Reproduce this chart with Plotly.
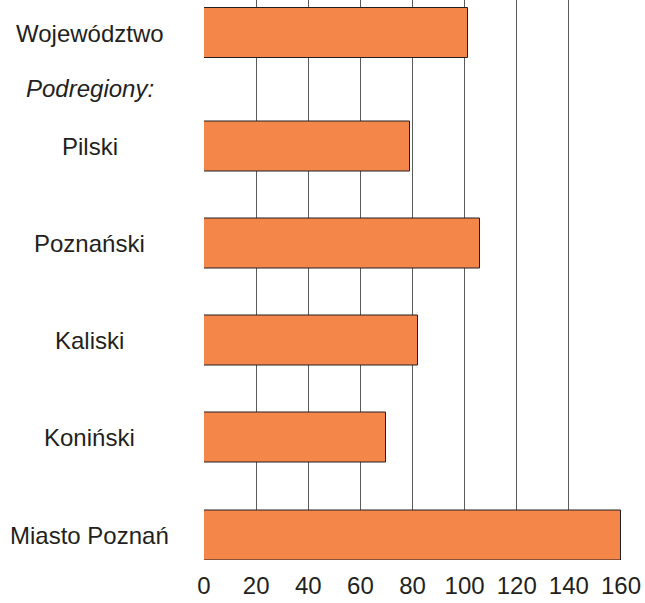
import plotly.graph_objects as go
from plotly.subplots import make_subplots

# top block: the whole voivodeship, then the "Podregiony:" heading row (no bar)
top_labels = ["Województwo", "<i>Podregiony:</i>"]
top_values = [101.3, None]

# sub-regions
sub_labels = ["Pilski", "Poznański", "Kaliski", "Koniński", "Miasto Poznań"]
sub_values = [79.0, 105.9, 82.1, 70.0, 160.0]

x_ticks = [0, 20, 40, 60, 80, 100, 120, 140, 160]

bar_color = "#F4864A"
text_color = "#231F20"
grid_color = "#5a5a5a"
font = "Liberation Sans, Arial, sans-serif"

fig = make_subplots(rows=2, cols=1, shared_xaxes=True, vertical_spacing=0,
                    row_heights=[0.20625, 0.79375])

fig.add_trace(go.Bar(
    x=top_values, y=top_labels, orientation="h", width=0.91,
    marker=dict(color=bar_color, line=dict(color=text_color, width=1)),
    showlegend=False, hoverinfo="x"), row=1, col=1)

fig.add_trace(go.Bar(
    x=sub_values, y=sub_labels, orientation="h", width=0.514,
    marker=dict(color=bar_color, line=dict(color=text_color, width=1)),
    showlegend=False, hoverinfo="x"), row=2, col=1)

# centred category labels on the left
for lab in top_labels:
    fig.add_annotation(x=-0.2734, xref="paper", y=lab, yref="y", text=lab,
                       showarrow=False, xanchor="center",
                       font=dict(size=24, color=text_color, family=font))
for lab in sub_labels:
    fig.add_annotation(x=-0.2734, xref="paper", y=lab, yref="y2", text=lab,
                       showarrow=False, xanchor="center",
                       font=dict(size=24, color=text_color, family=font))

axis_x = dict(range=[0, 160], tickvals=x_ticks, showgrid=True,
              gridcolor=grid_color, gridwidth=1, zeroline=False,
              showline=False, fixedrange=True)
fig.update_xaxes(**axis_x, showticklabels=False, row=1, col=1)
fig.update_xaxes(**axis_x, showticklabels=True, ticks="outside", ticklen=4,
                 tickcolor="rgba(0,0,0,0)",
                 tickfont=dict(size=24, color=text_color, family=font),
                 row=2, col=1)

fig.update_yaxes(type="category", categoryorder="array", categoryarray=top_labels,
                 range=[1.5, -0.6], showticklabels=False, showgrid=False,
                 zeroline=False, row=1, col=1)
fig.update_yaxes(type="category", categoryorder="array", categoryarray=sub_labels,
                 range=[4.257, -0.314], showticklabels=False, showgrid=False,
                 zeroline=False, row=2, col=1)

fig.update_layout(
    width=645, height=603,
    margin=dict(l=204, r=24, t=0, b=43),
    paper_bgcolor="white", plot_bgcolor="white",
    bargap=0,
    font=dict(family=font, color=text_color),
)

# drop the default body margin so the figure sits at the window's corner
fig.write_html("out.html", config={"displayModeBar": False},
               post_script="document.body.style.margin='0';")
